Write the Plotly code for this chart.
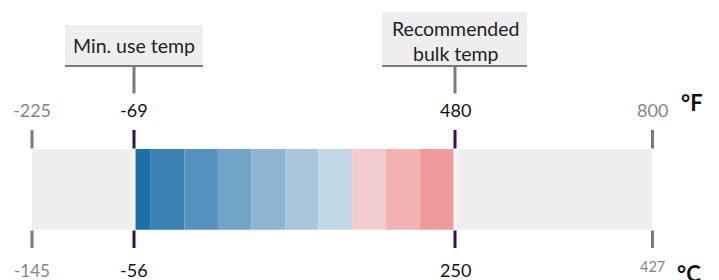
import plotly.graph_objects as go

# ---- data ----
scale_c = [-145, -56, 250, 427]          # °C tick values
scale_f = [-225, -69, 480, 800]          # °F tick values
seg_edges_c = [-56, -40, -8, 24, 56, 88, 120, 152, 184, 216, 250]
seg_colors = ["#1d6fa8", "#3b82b4", "#5591bf", "#72a4c8", "#8fb4d2",
              "#a9c7dc", "#c3d8e6", "#f3cccd", "#f2b2b4", "#ee9b9c"]
marker_labels = ["Min. use temp", "Recommended<br>bulk temp"]

W, H = 719, 280
OFF = 8                      # page body margin
FONT = "Lato"
GRAY_T = "#7a7a7a"
PURPLE = "#3d0b5c"


def xd(p):                   # screen px -> paper fraction
    return (p - OFF) / W


def yp(p):                   # screen px -> paper fraction (y)
    return 1 - (p - OFF) / H


def yd(p):                   # screen px -> y data
    return p - OFF


px = [32, 134, 455, 652.5]
BAR_TOP, BAR_BOT = 149, 229.7
BAR_Y, BAR_W = yd((BAR_TOP + BAR_BOT) / 2), BAR_BOT - BAR_TOP

fig = go.Figure()
fig.add_trace(go.Bar(orientation="h", base=[scale_c[0]], x=[scale_c[1] - scale_c[0]],
                     y=[BAR_Y], width=BAR_W, xaxis="x", yaxis="y",
                     marker=dict(color="#eeeeee", line=dict(width=0)), hoverinfo="skip"))
fig.add_trace(go.Bar(orientation="h", base=[scale_c[2]], x=[scale_c[3] - scale_c[2]],
                     y=[BAR_Y], width=BAR_W, xaxis="x3", yaxis="y",
                     marker=dict(color="#eeeeee", line=dict(width=0)), hoverinfo="skip"))
bases = seg_edges_c[:-1]
widths = [b - a for a, b in zip(seg_edges_c[:-1], seg_edges_c[1:])]
fig.add_trace(go.Bar(orientation="h", base=bases, x=widths, y=[BAR_Y] * len(bases),
                     width=BAR_W, xaxis="x2", yaxis="y",
                     marker=dict(color=seg_colors, line=dict(width=0)), hoverinfo="skip"))

# where each scale value sits: (domain ref, domain position, data ref)
pos = [("x domain", 0, "x"), ("x2 domain", 0, "x2"), ("x2 domain", 1, "x2"), ("x3 domain", 1, "x3")]
top_sizes = [18, 18, 18, 18]
bot_sizes = [17, 18, 18, 14.5]
bot_y = [270, 270, 270, 266]

shapes, annotations = [], []
for i, (c, f) in enumerate(zip(scale_c, scale_f)):
    dref, dpos, xr = pos[i]
    inner = i in (1, 2)
    col = PURPLE if inner else GRAY_T
    for y0, y1 in [(130, 148.5), (230.5, 248)]:
        shapes.append(dict(type="line", xref=dref, yref="paper", x0=dpos, x1=dpos,
                           y0=yp(y0), y1=yp(y1), line=dict(color=col, width=3)))
    if inner:
        shapes.append(dict(type="line", xref=dref, yref="paper", x0=dpos, x1=dpos,
                           y0=yp(BAR_TOP), y1=yp(BAR_BOT), line=dict(color="white", width=3)))
    txt_col = "#111111" if inner else "#858585"
    annotations.append(dict(xref=xr, yref="y", x=c, y=yd(110), text=str(f), showarrow=False,
                            font=dict(family=FONT, size=top_sizes[i], color=txt_col)))
    annotations.append(dict(xref=xr, yref="y", x=c, y=yd(bot_y[i]), text=str(c), showarrow=False,
                            font=dict(family=FONT, size=bot_sizes[i], color=txt_col)))

# label boxes: (domain pos, left px, right px, top px, text centre px)
box_specs = [(0, -69, 69, 25, 45), (1, -73, 72, 12, 41)]
for (dpos, l, r, top, ty), lab, c in zip(box_specs, marker_labels, scale_c[1:3]):
    shapes.append(dict(type="rect", xref="x2 domain", yref="paper", xsizemode="pixel",
                       xanchor=dpos, x0=l, x1=r, y0=yp(top), y1=yp(66),
                       fillcolor="#eeeeee", line=dict(width=0)))
    shapes.append(dict(type="line", xref="x2 domain", yref="paper", xsizemode="pixel",
                       xanchor=dpos, x0=l, x1=r, y0=yp(66), y1=yp(66),
                       line=dict(color=GRAY_T, width=2)))
    shapes.append(dict(type="line", xref="x2 domain", yref="paper", x0=dpos, x1=dpos,
                       y0=yp(67), y1=yp(93.5), line=dict(color=GRAY_T, width=3)))
    annotations.append(dict(xref="x2", yref="y", x=c, y=yd(ty), text=lab,
                            showarrow=False, align="center",
                            font=dict(family=FONT, size=19.5, color="#222222")))

annotations.append(dict(xref="x3", yref="y", x=scale_c[3], xshift=39, y=yd(102), text="<b>°F</b>",
                        showarrow=False, font=dict(family=FONT, size=22, color="#111111")))
annotations.append(dict(xref="x3", yref="y", x=scale_c[3], xshift=36, y=yd(273), text="<b>°C</b>",
                        showarrow=False, font=dict(family=FONT, size=22, color="#111111")))

hid = dict(visible=False, showgrid=False, zeroline=False, fixedrange=True)
fig.update_layout(
    width=W, height=H, margin=dict(l=0, r=0, t=0, b=0),
    paper_bgcolor="white", plot_bgcolor="white", showlegend=False, barmode="overlay",
    xaxis=dict(domain=[xd(px[0]), xd(px[1])], range=[scale_c[0], scale_c[1]], anchor="y", **hid),
    xaxis2=dict(domain=[xd(px[1]), xd(px[2])], range=[scale_c[1], scale_c[2]], anchor="y", **hid),
    xaxis3=dict(domain=[xd(px[2]), xd(px[3])], range=[scale_c[2], scale_c[3]], anchor="y", **hid),
    yaxis=dict(range=[H, 0], domain=[0, 1], **hid),
    shapes=shapes, annotations=annotations,
)
fig.write_html("out.html")
